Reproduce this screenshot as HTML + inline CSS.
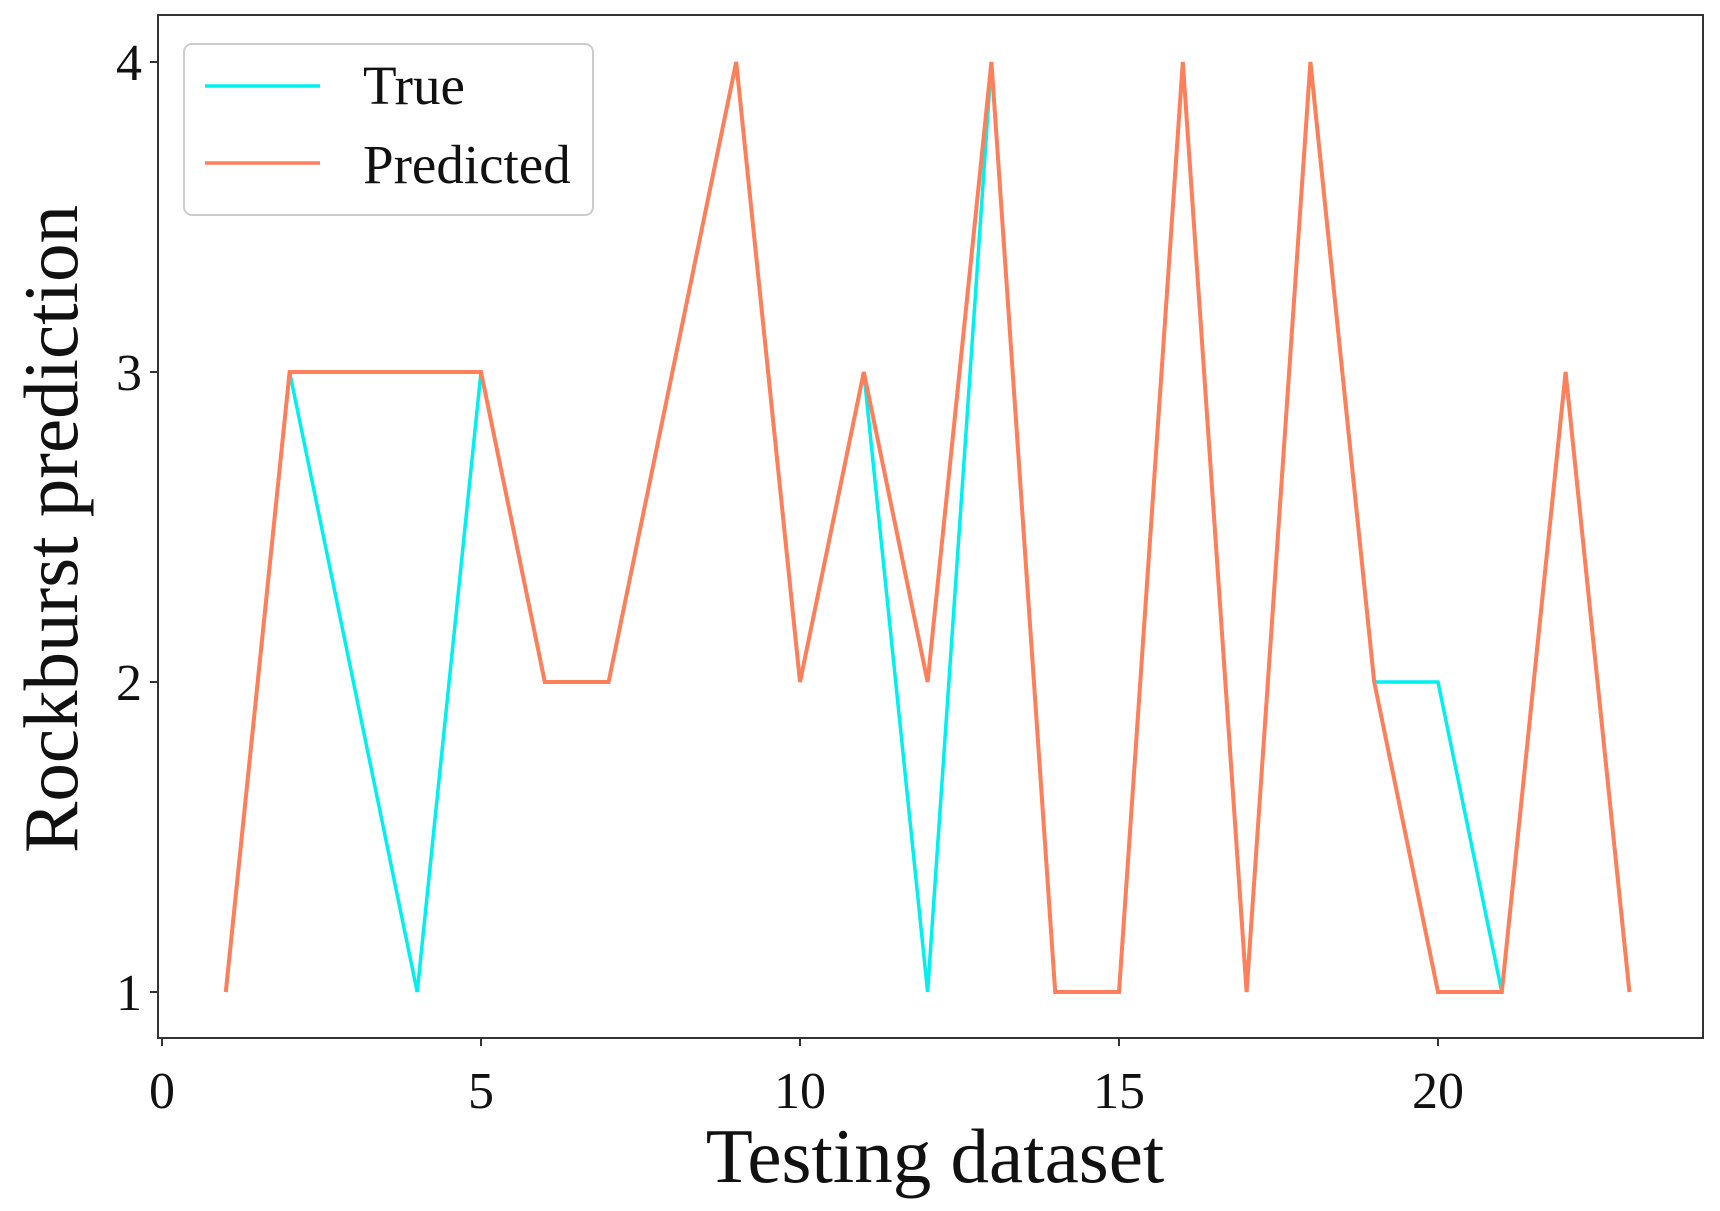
<!DOCTYPE html>
<html><head><meta charset="utf-8"><style>
html,body{margin:0;padding:0;background:#fff;}
svg{display:block;font-family:"Liberation Serif",serif;}
</style></head><body>
<svg id="chart" width="1720" height="1211" viewBox="0 0 1720 1211">
<rect x="158" y="15" width="1545" height="1023" fill="#fff" stroke="#333" stroke-width="2"/>
<g id="xticks"></g>
<g id="yticks"></g>
<g id="series"></g>
<text x="935" y="1182" font-size="77" text-anchor="middle" fill="#111">Testing dataset</text>
<text transform="translate(77,529) rotate(-90)" font-size="77" text-anchor="middle" fill="#111">Rockburst prediction</text>
<g>
<rect x="184" y="44" width="409" height="171" rx="8" fill="#fff" stroke="#ccc" stroke-width="2"/>
<line x1="205" y1="86" x2="320" y2="86" stroke="#00f0f0" stroke-width="3.5"/>
<text x="363" y="104" font-size="55" fill="#111">True</text>
<line x1="205" y1="163" x2="320" y2="163" stroke="#ff7f5a" stroke-width="3.5"/>
<text x="363" y="183" font-size="55" fill="#111">Predicted</text>
</g>
</svg>
<script>
const xs = [1,2,3,4,5,6,7,8,9,10,11,12,13,14,15,16,17,18,19,20,21,22,23];
const trueVals = [1,3,2,1,3,2,2,3,4,2,3,1,4,1,1,4,1,4,2,2,1,3,1];
const predVals = [1,3,3,3,3,2,2,3,4,2,3,2,4,1,1,4,1,4,2,1,1,3,1];
const xTickVals = [0,5,10,15,20];
const yTickVals = [1,2,3,4];
const NS='http://www.w3.org/2000/svg';
function X(v){return 162+v*63.8;}
function Y(v){return 992-(v-1)*310;}
function mk(tag,attrs,parent){const e=document.createElementNS(NS,tag);for(const k in attrs)e.setAttribute(k,attrs[k]);parent.appendChild(e);return e;}
const xg=document.getElementById('xticks'), yg=document.getElementById('yticks'), sg=document.getElementById('series');
xTickVals.forEach(v=>{
  const l=mk('line',{x1:X(v),x2:X(v),y1:1038,y2:1046,stroke:'#333','stroke-width':2},xg);
  
  
  const t=mk('text',{x:X(v),y:1108,'font-size':52,'text-anchor':'middle',fill:'#111'},xg);
  t.textContent=v;
  
  
});
yTickVals.forEach(v=>{
  const l=mk('line',{x1:150,x2:158,y1:Y(v),y2:Y(v),stroke:'#333','stroke-width':2},yg);
  
  
  const t=mk('text',{x:142,y:Y(v)+18,'font-size':52,'text-anchor':'end',fill:'#111'},yg);
  t.textContent=v;
  
  
});
function pts(vals){return vals.map((v,i)=>X(xs[i])+','+Y(v)).join(' ');}
const tl=mk('polyline',{points:pts(trueVals),fill:'none',stroke:'#00f0f0','stroke-width':3.5,'stroke-linejoin':'miter'},sg);


const pl=mk('polyline',{points:pts(predVals),fill:'none',stroke:'#ff7f5a','stroke-width':4,'stroke-linejoin':'miter'},sg);


</script>
</body></html>
